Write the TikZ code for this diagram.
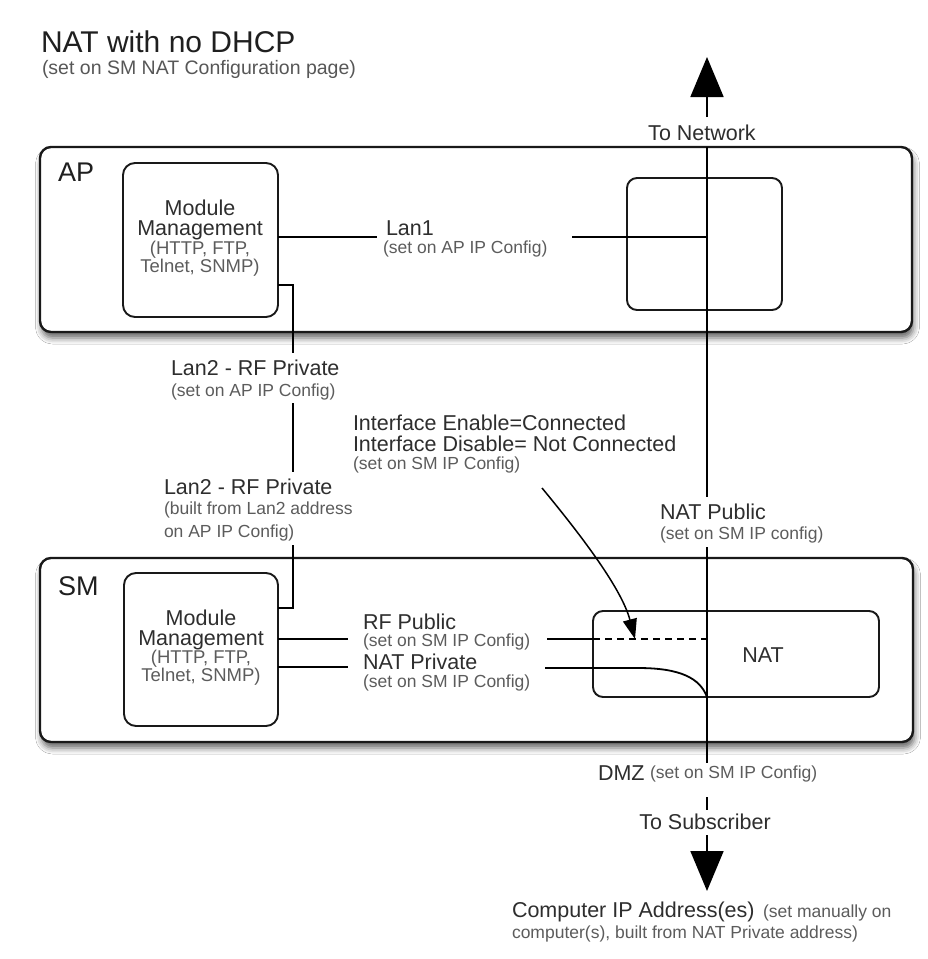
\documentclass[tikz,border=0pt]{standalone}
\usepackage{fontspec}
\setmainfont{Liberation Sans}
\usetikzlibrary{arrows.meta,shadows.blur,calc}

\begin{document}
\begin{tikzpicture}[x=1pt,y=-1pt,
  every node/.style={inner sep=0pt, outer sep=0pt},
  shell/.style={draw=black!90, line width=2.4pt, rounded corners=11pt, fill=white,
     blur shadow={shadow xshift=1.5pt, shadow yshift=-6pt, shadow blur radius=6pt, shadow opacity=60}},
  unit/.style={draw=black!90, line width=1.9pt, rounded corners=12pt},
  wire/.style={black, line width=1.8pt},
  heading/.style={font=\fontsize{27}{29}\selectfont, text=black!88, anchor=west},
  lbl/.style={font=\fontsize{21.5}{23}\selectfont, text=black!82},
  note/.style={font=\fontsize{17.5}{19}\selectfont, text=black!64},
  modnote/.style={font=\fontsize{18.5}{20}\selectfont, text=black!64},
  bigtip/.style={-{Triangle[length=40pt,width=33pt]}},
]
\useasboundingbox (0,0) rectangle (928,959);
\fill[white] (0,0) rectangle (928,959);

% outer device frames
\node[shell, minimum width=872pt, minimum height=185pt] (ap) at (476,239.5) {};
\node[shell, minimum width=873pt, minimum height=184pt] (sm) at (476.5,650) {};

% inner blocks
\node[unit, minimum width=155pt, minimum height=154pt] (apmod) at (200.5,240) {};
\node[unit, minimum width=154pt, minimum height=153pt] (smmod) at (201,649.5) {};
\node[unit, minimum width=155pt, minimum height=132pt, rounded corners=10pt] (apbr) at (704.5,244) {};
\node[unit, minimum width=286pt, minimum height=86pt, rounded corners=10pt] (natbox) at (736,654) {};

% connector end points
\coordinate (netx) at (707,0);
\coordinate (netfoot) at (707,117);
\coordinate (nettip) at (707,57);
\coordinate (pubtop) at (707,497);
\coordinate (pubbot) at (707,547);
\coordinate (dmztop) at (707,763);
\coordinate (dmzbot) at (707,797);
\coordinate (subtop) at (707,810);
\coordinate (subbot) at (707,835);
\coordinate (subtip) at (707,891);
\coordinate (l1a) at (377,237);
\coordinate (l1b) at (572,237);
\coordinate (k1) at (293,353);
\coordinate (k2) at (293,403);
\coordinate (k3) at (293,472);
\coordinate (k4) at (293,545);
\coordinate (rfl) at (348,639);
\coordinate (rfr) at (547,639);
\coordinate (npl) at (348,667);
\coordinate (npr) at (545,668);
\coordinate (npbend) at (638,668);
\coordinate (ifstart) at (542,488);
\coordinate (iftip) at (635,639);

% network trunk
\draw[wire, bigtip] (netfoot) -- (nettip);
\draw[wire] (ap.north -| netx) -- (pubtop);
\draw[wire] (pubbot) -- (dmztop);
\draw[wire] (dmzbot) -- (subtop);
\draw[wire, bigtip] (subbot) -- (subtip);

% Lan1
\draw[wire] ($(apmod.east)+(0,-3)$) -- (l1a);
\draw[wire] (l1b) -- (l1b -| netx);

% Lan2 / RF private link
\draw[wire] ($(apmod.east)+(0,45)$) -| (k1);
\draw[wire] (k2) -- (k3);
\draw[wire] (k4) |- ($(smmod.east)+(0,-41.5)$);

% RF public
\draw[wire] (smmod.east |- rfl) -- (rfl);
\draw[wire] (rfr) -- (rfr -| natbox.west);
\draw[wire, dash pattern=on 7pt off 5pt] (rfr -| natbox.west) -- (rfr -| netx);

% NAT private
\draw[wire] (smmod.east |- npl) -- (npl);
\draw[wire] (npr) -- (npbend) .. controls (680,668) and (700,678) .. (natbox.south -| netx);

% interface enable pointer
\draw[black, line width=1.5pt, -{Triangle[length=20pt,width=14pt]}] (ifstart) .. controls (585,540) and (622,590) .. (iftip);

% titles
\node[anchor=west, font=\fontsize{30}{32}\selectfont, text=black!88] (title) at (41,42) {NAT with no DHCP};
\node[anchor=west, font=\fontsize{19.5}{21}\selectfont, text=black!66] (subtitle) at (42,69) {(set on SM NAT Configuration page)};
\node[heading] (aplbl) at (58,172) {AP};
\node[heading] (smlbl) at (58,586) {SM};

% module management texts
\node[lbl] (apm1) at (200,208) {Module};
\node[lbl] (apm2) at (200,230) {Management};
\node[modnote] (apm3) at (200,250) {(HTTP, FTP,};
\node[modnote] (apm4) at (200,268) {Telnet, SNMP)};
\node[lbl] (smm1) at (201,618) {Module};
\node[lbl] (smm2) at (201,640) {Management};
\node[modnote] (smm3) at (201,659) {(HTTP, FTP,};
\node[modnote] (smm4) at (201,677) {Telnet, SNMP)};

% link labels
\node[lbl, anchor=west] (lan1) at (386,228) {Lan1};
\node[note, anchor=west] (lan1n) at (383,249) {(set on AP IP Config)};
\node[lbl, anchor=west] (lan2a) at (171,368) {Lan2 - RF Private};
\node[note, anchor=west] (lan2an) at (171,392) {(set on AP IP Config)};
\node[lbl, anchor=west] (lan2b) at (164,487) {Lan2 - RF Private};
\node[note, anchor=west] (lan2bn1) at (164,510) {(built from Lan2 address};
\node[note, anchor=west] (lan2bn2) at (164,533) {on AP IP Config)};
\node[lbl, anchor=west] (if1) at (353,423) {Interface Enable=Connected};
\node[lbl, anchor=west] (if2) at (353,444) {Interface Disable= Not Connected};
\node[note, anchor=west] (ifn) at (353,465) {(set on SM IP Config)};
\node[lbl, anchor=west] (pub) at (660,512) {NAT Public};
\node[note, anchor=west] (pubn) at (660,535) {(set on SM IP config)};
\node[lbl, anchor=west] (rfp) at (363,622) {RF Public};
\node[note, anchor=west] (rfpn) at (363,642) {(set on SM IP Config)};
\node[lbl, anchor=west] (natp) at (363,662) {NAT Private};
\node[note, anchor=west] (natpn) at (363,683) {(set on SM IP Config)};
\node[lbl] (natlbl) at (763,655) {NAT};
\node[lbl] (tonet) at (702,133) {To Network};
\node[lbl, anchor=west] (dmz) at (598,773) {DMZ};
\node[note, anchor=west] (dmzn) at (650,774) {(set on SM IP Config)};
\node[lbl] (tosub) at (705,822) {To Subscriber};
\node[lbl, anchor=west] (pc) at (512,912) {Computer IP Address(es)};
\node[note, anchor=west] (pcn1) at (763,913) {(set manually on};
\node[note, anchor=west] (pcn2) at (512,934) {computer(s), built from NAT Private address)};
\end{tikzpicture}
\end{document}
